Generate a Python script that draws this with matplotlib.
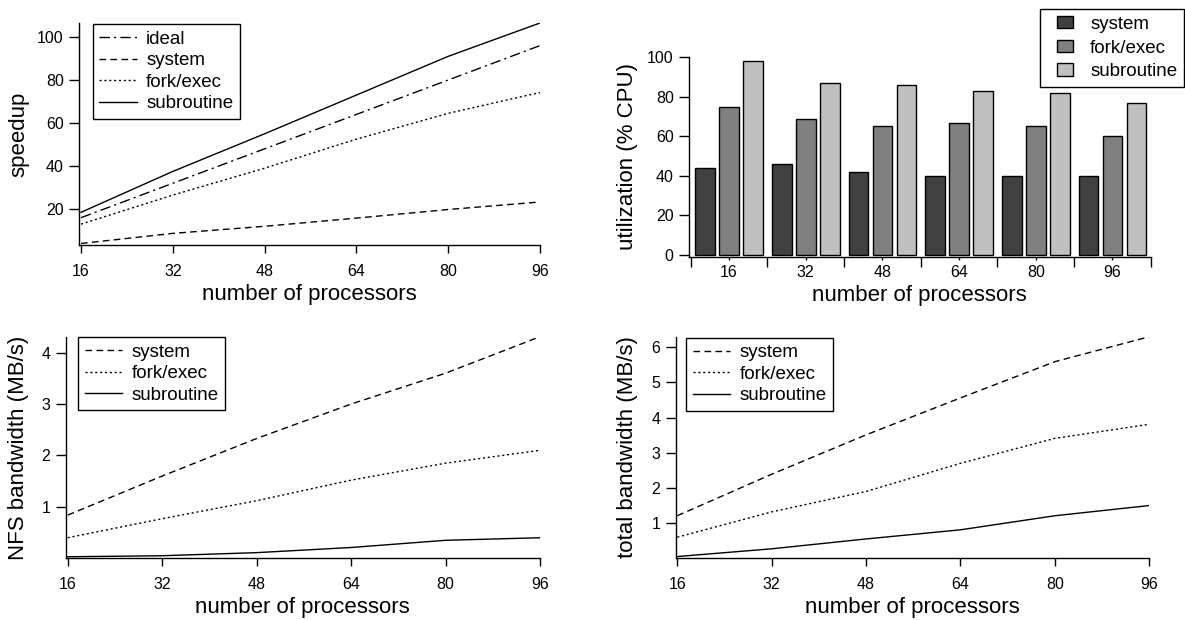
import matplotlib
matplotlib.use("Agg")
import matplotlib.pyplot as plt
import numpy as np
from matplotlib.patches import Rectangle
from matplotlib.legend_handler import HandlerPatch

plt.rcParams['font.family'] = ['Liberation Sans', 'DejaVu Sans']

# ---------------- data ----------------
procs = [16, 32, 48, 64, 80, 96]
proc_labels = ["16", "32", "48", "64", "80", "96"]

speedup_ideal = [16, 32, 48, 64, 80, 96]
speedup_system = [4.0, 8.7, 12.0, 15.8, 19.8, 23.3]
speedup_fork = [13.0, 26.5, 39.0, 52.5, 64.5, 74.2]
speedup_sub = [18.5, 37.5, 55.0, 73.0, 91.0, 106.5]

util_system = [44, 46, 42, 40, 40, 40]
util_fork = [75, 69, 65, 67, 65, 60]
util_sub = [98, 87, 86, 83, 82, 77]

nfs_system = [0.84, 1.60, 2.33, 3.00, 3.60, 4.31]
nfs_fork = [0.40, 0.77, 1.12, 1.52, 1.85, 2.10]
nfs_sub = [0.03, 0.05, 0.11, 0.21, 0.35, 0.40]

tot_system = [1.21, 2.39, 3.51, 4.56, 5.59, 6.30]
tot_fork = [0.60, 1.32, 1.90, 2.70, 3.41, 3.81]
tot_sub = [0.05, 0.27, 0.55, 0.81, 1.21, 1.50]

series_names = ["system", "fork/exec", "subroutine"]

# ---------------- styles ----------------
W, H = 1185, 620
DASH = (0, (4.8, 3.1))
DOT = (0, (1.5, 2.0))
DASHDOT = (0, (7.5, 3.0, 1.5, 3.0))
LW = 1.0
TICK_FS = 11.5
LABEL_FS = 16
LEG_FS = 13.5
bar_colors = ["#404040", "#808080", "#c0c0c0"]

fig = plt.figure(figsize=(W / 100, H / 100), dpi=100)


def px_axes(left, right, top, bottom):
    return fig.add_axes([left / W, 1 - bottom / H, (right - left) / W, (bottom - top) / H])


def style_axes(ax):
    for s in ("top", "right"):
        ax.spines[s].set_visible(False)
    for s in ("left", "bottom"):
        ax.spines[s].set_linewidth(1.0)
    ax.tick_params(axis="x", direction="out", length=6, width=1.0, pad=7.5, labelsize=TICK_FS)
    ax.tick_params(axis="y", direction="out", length=7.5, width=1.0, pad=3.5, labelsize=TICK_FS)


def legend_at(ax, handles, labels, x_px, y_px, **kw):
    leg = ax.legend(handles, labels, loc="upper left",
                    bbox_to_anchor=(x_px / W, 1 - y_px / H), bbox_transform=fig.transFigure,
                    borderaxespad=0, fontsize=LEG_FS, frameon=True, fancybox=False,
                    framealpha=1, edgecolor="black", **kw)
    leg.get_frame().set_linewidth(1.0)
    return leg


def offset_square(legend, orig_handle, xdescent, ydescent, width, height, fontsize):
    # small square swatch placed in the right part of the handle box
    sw = 12.0
    return Rectangle((-xdescent + width - sw, -ydescent), sw, height)


# ---------------- top-left: speedup ----------------
ax1 = px_axes(79, 540, 23, 245)
style_axes(ax1)
l_ideal, = ax1.plot(procs, speedup_ideal, color="black", lw=LW, ls=DASHDOT)
l_sys, = ax1.plot(procs, speedup_system, color="black", lw=LW, ls=DASH)
l_fork, = ax1.plot(procs, speedup_fork, color="black", lw=LW, ls=DOT)
l_sub, = ax1.plot(procs, speedup_sub, color="black", lw=LW, ls="-")
ax1.set_xlim(15.65, 96)
ax1.set_ylim(3.3, 106.5)
ax1.set_xticks(procs)
ax1.set_xticklabels(proc_labels)
ax1.set_yticks([20, 40, 60, 80, 100])
ax1.set_xlabel("number of processors", fontsize=LABEL_FS, va="top")
ax1.xaxis.set_label_coords(309.5 / W, 1 - 284 / H, transform=fig.transFigure)
ax1.set_ylabel("speedup", fontsize=LABEL_FS)
ax1.yaxis.set_label_coords(29 / W, 1 - 134 / H, transform=fig.transFigure)
legend_at(ax1, [l_ideal, l_sys, l_fork, l_sub], ["ideal"] + series_names, 92.7, 24.3,
          handlelength=2.0, handletextpad=0.5, labelspacing=0.23, borderpad=0.35)

# ---------------- top-right: utilization bars ----------------
ax2 = px_axes(689, 1150.7, 57.3, 256.7)
style_axes(ax2)
xg = np.arange(len(procs))
bw = 0.257
offs = [-0.313, 0.0, 0.313]
bar_handles = []
for vals, off, col in zip([util_system, util_fork, util_sub], offs, bar_colors):
    b = ax2.bar(xg + off, vals, width=bw, color=col, edgecolor="black", linewidth=1.0)
    bar_handles.append(b.patches[0])
ax2.set_xlim(-0.522, 5.5)
ax2.set_ylim(-0.86, 100)
ax2.set_yticks([0, 20, 40, 60, 80, 100])
ax2.set_xticks(np.arange(-0.5, len(procs), 1.0))
ax2.set_xticklabels([])
ax2.set_xticks(xg, minor=True)
ax2.set_xticklabels(proc_labels, minor=True)
ax2.tick_params(axis="x", which="major", length=7.5, width=1.0)
ax2.tick_params(axis="x", which="minor", length=2, width=1.0, pad=4, labelsize=TICK_FS)
ax2.set_xlabel("number of processors", fontsize=LABEL_FS, va="top")
ax2.xaxis.set_label_coords((689 + 1150.7) / 2 / W, 1 - 285 / H, transform=fig.transFigure)
ax2.set_ylabel("utilization (% CPU)", fontsize=LABEL_FS)
ax2.yaxis.set_label_coords(638 / W, 1 - 157 / H, transform=fig.transFigure)
legend_at(ax2, bar_handles, series_names, 1040, 9,
          handlelength=1.42, handleheight=0.68, handletextpad=0.9, labelspacing=0.37,
          borderpad=0.35,
          handler_map={Rectangle: HandlerPatch(patch_func=offset_square)})

# ---------------- bottom-left: NFS bandwidth ----------------
ax3 = px_axes(65.7, 540, 336.7, 558.3)
style_axes(ax3)
h1, = ax3.plot(procs, nfs_system, color="black", lw=LW, ls=DASH)
h2, = ax3.plot(procs, nfs_fork, color="black", lw=LW, ls=DOT)
h3, = ax3.plot(procs, nfs_sub, color="black", lw=LW, ls="-")
ax3.set_xlim(15.66, 96)
ax3.set_ylim(0, 4.31)
ax3.set_xticks(procs)
ax3.set_xticklabels(proc_labels)
ax3.set_yticks([1, 2, 3, 4])
ax3.set_xlabel("number of processors", fontsize=LABEL_FS, va="top")
ax3.xaxis.set_label_coords((65.7 + 540) / 2 / W, 1 - 597 / H, transform=fig.transFigure)
ax3.set_ylabel("NFS bandwidth (MB/s)", fontsize=LABEL_FS)
ax3.yaxis.set_label_coords(29 / W, 1 - 447.5 / H, transform=fig.transFigure)
legend_at(ax3, [h1, h2, h3], series_names, 78.3, 337.3,
          handlelength=2.0, handletextpad=0.5, labelspacing=0.23, borderpad=0.35)

# ---------------- bottom-right: total bandwidth ----------------
ax4 = px_axes(675.7, 1149.3, 336.7, 558.3)
style_axes(ax4)
g1, = ax4.plot(procs, tot_system, color="black", lw=LW, ls=DASH)
g2, = ax4.plot(procs, tot_fork, color="black", lw=LW, ls=DOT)
g3, = ax4.plot(procs, tot_sub, color="black", lw=LW, ls="-")
ax4.set_xlim(15.73, 96)
ax4.set_ylim(0, 6.3)
ax4.set_xticks(procs)
ax4.set_xticklabels(proc_labels)
ax4.set_yticks([1, 2, 3, 4, 5, 6])
ax4.set_xlabel("number of processors", fontsize=LABEL_FS, va="top")
ax4.xaxis.set_label_coords((675.7 + 1149.3) / 2 / W, 1 - 597 / H, transform=fig.transFigure)
ax4.set_ylabel("total bandwidth (MB/s)", fontsize=LABEL_FS)
ax4.yaxis.set_label_coords(638 / W, 1 - 447.5 / H, transform=fig.transFigure)
legend_at(ax4, [g1, g2, g3], series_names, 686, 337.7,
          handlelength=2.0, handletextpad=0.5, labelspacing=0.23, borderpad=0.35)

fig.savefig("out.png", dpi=100)
